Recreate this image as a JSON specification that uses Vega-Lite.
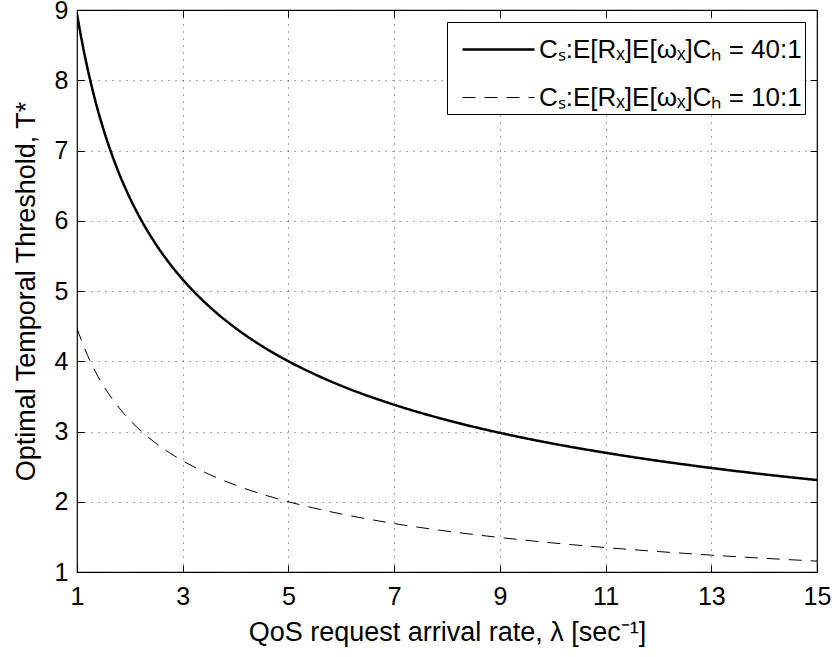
{
  "$schema": "https://vega.github.io/schema/vega-lite/v6.json",
  "autosize": "none",
  "width": 740,
  "height": 562,
  "padding": {"left": 77, "top": 10, "right": 19, "bottom": 85},
  "background": "white",
  "config": {
    "font": "Liberation Sans",
    "view": {"stroke": "black", "strokeWidth": 1.2},
    "axis": {
      "labelFont": "Liberation Sans",
      "titleFont": "Liberation Sans",
      "labelFontSize": 25,
      "titleFontSize": 27,
      "labelColor": "black",
      "titleColor": "black",
      "titleFontWeight": "normal",
      "labelFlush": false,
      "labelOverlap": false,
      "domain": false,
      "tickColor": "black",
      "tickSize": -7,
      "grid": true,
      "gridColor": "#222",
      "gridDash": [1, 6],
      "gridWidth": 0.8
    }
  },
  "data": {
    "values": [
      {"x": 1, "y": 8.944, "s": "Cₛ:E[Rₓ]E[ωₓ]Cₕ = 40:1"},
      {"x": 1.1, "y": 8.528, "s": "Cₛ:E[Rₓ]E[ωₓ]Cₕ = 40:1"},
      {"x": 1.2, "y": 8.165, "s": "Cₛ:E[Rₓ]E[ωₓ]Cₕ = 40:1"},
      {"x": 1.3, "y": 7.845, "s": "Cₛ:E[Rₓ]E[ωₓ]Cₕ = 40:1"},
      {"x": 1.4, "y": 7.559, "s": "Cₛ:E[Rₓ]E[ωₓ]Cₕ = 40:1"},
      {"x": 1.5, "y": 7.303, "s": "Cₛ:E[Rₓ]E[ωₓ]Cₕ = 40:1"},
      {"x": 1.75, "y": 6.761, "s": "Cₛ:E[Rₓ]E[ωₓ]Cₕ = 40:1"},
      {"x": 2, "y": 6.325, "s": "Cₛ:E[Rₓ]E[ωₓ]Cₕ = 40:1"},
      {"x": 2.25, "y": 5.963, "s": "Cₛ:E[Rₓ]E[ωₓ]Cₕ = 40:1"},
      {"x": 2.5, "y": 5.657, "s": "Cₛ:E[Rₓ]E[ωₓ]Cₕ = 40:1"},
      {"x": 2.75, "y": 5.394, "s": "Cₛ:E[Rₓ]E[ωₓ]Cₕ = 40:1"},
      {"x": 3, "y": 5.164, "s": "Cₛ:E[Rₓ]E[ωₓ]Cₕ = 40:1"},
      {"x": 3.5, "y": 4.781, "s": "Cₛ:E[Rₓ]E[ωₓ]Cₕ = 40:1"},
      {"x": 4, "y": 4.472, "s": "Cₛ:E[Rₓ]E[ωₓ]Cₕ = 40:1"},
      {"x": 4.5, "y": 4.216, "s": "Cₛ:E[Rₓ]E[ωₓ]Cₕ = 40:1"},
      {"x": 5, "y": 4.0, "s": "Cₛ:E[Rₓ]E[ωₓ]Cₕ = 40:1"},
      {"x": 5.5, "y": 3.814, "s": "Cₛ:E[Rₓ]E[ωₓ]Cₕ = 40:1"},
      {"x": 6, "y": 3.651, "s": "Cₛ:E[Rₓ]E[ωₓ]Cₕ = 40:1"},
      {"x": 7, "y": 3.381, "s": "Cₛ:E[Rₓ]E[ωₓ]Cₕ = 40:1"},
      {"x": 8, "y": 3.162, "s": "Cₛ:E[Rₓ]E[ωₓ]Cₕ = 40:1"},
      {"x": 9, "y": 2.981, "s": "Cₛ:E[Rₓ]E[ωₓ]Cₕ = 40:1"},
      {"x": 10, "y": 2.828, "s": "Cₛ:E[Rₓ]E[ωₓ]Cₕ = 40:1"},
      {"x": 11, "y": 2.697, "s": "Cₛ:E[Rₓ]E[ωₓ]Cₕ = 40:1"},
      {"x": 12, "y": 2.582, "s": "Cₛ:E[Rₓ]E[ωₓ]Cₕ = 40:1"},
      {"x": 13, "y": 2.481, "s": "Cₛ:E[Rₓ]E[ωₓ]Cₕ = 40:1"},
      {"x": 14, "y": 2.39, "s": "Cₛ:E[Rₓ]E[ωₓ]Cₕ = 40:1"},
      {"x": 15, "y": 2.309, "s": "Cₛ:E[Rₓ]E[ωₓ]Cₕ = 40:1"},
      {"x": 1, "y": 4.472, "s": "Cₛ:E[Rₓ]E[ωₓ]Cₕ = 10:1"},
      {"x": 1.1, "y": 4.264, "s": "Cₛ:E[Rₓ]E[ωₓ]Cₕ = 10:1"},
      {"x": 1.2, "y": 4.082, "s": "Cₛ:E[Rₓ]E[ωₓ]Cₕ = 10:1"},
      {"x": 1.3, "y": 3.922, "s": "Cₛ:E[Rₓ]E[ωₓ]Cₕ = 10:1"},
      {"x": 1.4, "y": 3.78, "s": "Cₛ:E[Rₓ]E[ωₓ]Cₕ = 10:1"},
      {"x": 1.5, "y": 3.651, "s": "Cₛ:E[Rₓ]E[ωₓ]Cₕ = 10:1"},
      {"x": 1.75, "y": 3.381, "s": "Cₛ:E[Rₓ]E[ωₓ]Cₕ = 10:1"},
      {"x": 2, "y": 3.162, "s": "Cₛ:E[Rₓ]E[ωₓ]Cₕ = 10:1"},
      {"x": 2.25, "y": 2.981, "s": "Cₛ:E[Rₓ]E[ωₓ]Cₕ = 10:1"},
      {"x": 2.5, "y": 2.828, "s": "Cₛ:E[Rₓ]E[ωₓ]Cₕ = 10:1"},
      {"x": 2.75, "y": 2.697, "s": "Cₛ:E[Rₓ]E[ωₓ]Cₕ = 10:1"},
      {"x": 3, "y": 2.582, "s": "Cₛ:E[Rₓ]E[ωₓ]Cₕ = 10:1"},
      {"x": 3.5, "y": 2.39, "s": "Cₛ:E[Rₓ]E[ωₓ]Cₕ = 10:1"},
      {"x": 4, "y": 2.236, "s": "Cₛ:E[Rₓ]E[ωₓ]Cₕ = 10:1"},
      {"x": 4.5, "y": 2.108, "s": "Cₛ:E[Rₓ]E[ωₓ]Cₕ = 10:1"},
      {"x": 5, "y": 2.0, "s": "Cₛ:E[Rₓ]E[ωₓ]Cₕ = 10:1"},
      {"x": 5.5, "y": 1.907, "s": "Cₛ:E[Rₓ]E[ωₓ]Cₕ = 10:1"},
      {"x": 6, "y": 1.826, "s": "Cₛ:E[Rₓ]E[ωₓ]Cₕ = 10:1"},
      {"x": 7, "y": 1.69, "s": "Cₛ:E[Rₓ]E[ωₓ]Cₕ = 10:1"},
      {"x": 8, "y": 1.581, "s": "Cₛ:E[Rₓ]E[ωₓ]Cₕ = 10:1"},
      {"x": 9, "y": 1.491, "s": "Cₛ:E[Rₓ]E[ωₓ]Cₕ = 10:1"},
      {"x": 10, "y": 1.414, "s": "Cₛ:E[Rₓ]E[ωₓ]Cₕ = 10:1"},
      {"x": 11, "y": 1.348, "s": "Cₛ:E[Rₓ]E[ωₓ]Cₕ = 10:1"},
      {"x": 12, "y": 1.291, "s": "Cₛ:E[Rₓ]E[ωₓ]Cₕ = 10:1"},
      {"x": 13, "y": 1.24, "s": "Cₛ:E[Rₓ]E[ωₓ]Cₕ = 10:1"},
      {"x": 14, "y": 1.195, "s": "Cₛ:E[Rₓ]E[ωₓ]Cₕ = 10:1"},
      {"x": 15, "y": 1.155, "s": "Cₛ:E[Rₓ]E[ωₓ]Cₕ = 10:1"}
    ]
  },
  "layer": [
    {
      "mark": {"type": "line", "color": "black", "interpolate": "monotone", "clip": true},
      "encoding": {
        "x": {
          "field": "x", "type": "quantitative",
          "scale": {"domain": [1, 15], "nice": false, "zero": false},
          "axis": {"values": [1, 3, 5, 7, 9, 11, 13, 15], "title": "QoS request arrival rate, λ [sec⁻¹]", "labelPadding": 19, "titlePadding": 10}
        },
        "y": {
          "field": "y", "type": "quantitative",
          "scale": {"domain": [1, 9], "nice": false, "zero": false},
          "axis": {"values": [1, 2, 3, 4, 5, 6, 7, 8, 9], "title": "Optimal Temporal Threshold, T*", "labelPadding": 16, "titlePadding": 14}
        },
        "strokeDash": {
          "field": "s", "type": "nominal",
          "scale": {"domain": ["Cₛ:E[Rₓ]E[ωₓ]Cₕ = 40:1", "Cₛ:E[Rₓ]E[ωₓ]Cₕ = 10:1"], "range": [[1, 0], [13, 9]]},
          "legend": {
            "title": null,
            "orient": "top-right",
            "offset": 12,
            "strokeColor": "black",
            "fillColor": "white",
            "padding": 3,
            "symbolOffset": 11,
            "symbolType": "M-1,-0.36H1",
            "symbolFillColor": "transparent",
            "symbolStrokeColor": "black",
            "symbolSize": 5184,
            "labelFont": "Liberation Sans",
            "labelFontSize": 26,
            "labelBaseline": "bottom",
            "labelColor": "black",
            "labelLimit": 400,
            "labelOffset": 3,
            "labelExpr": "datum.label + '  '",
            "rowPadding": 11
          }
        },
        "strokeWidth": {
          "field": "s", "type": "nominal",
          "scale": {"domain": ["Cₛ:E[Rₓ]E[ωₓ]Cₕ = 40:1", "Cₛ:E[Rₓ]E[ωₓ]Cₕ = 10:1"], "range": [2.5, 1]},
          "legend": null
        }
      }
    },
    {
      "mark": {"type": "line", "opacity": 0},
      "encoding": {
        "x": {
          "field": "x", "type": "quantitative",
          "axis": {"orient": "top", "values": [1, 3, 5, 7, 9, 11, 13, 15], "labels": false, "title": null, "grid": false}
        },
        "y": {
          "field": "y", "type": "quantitative",
          "axis": {"orient": "right", "values": [1, 2, 3, 4, 5, 6, 7, 8, 9], "labels": false, "title": null, "grid": false}
        },
        "detail": {"field": "s"}
      }
    }
  ],
  "resolve": {"axis": {"x": "independent", "y": "independent"}}
}
